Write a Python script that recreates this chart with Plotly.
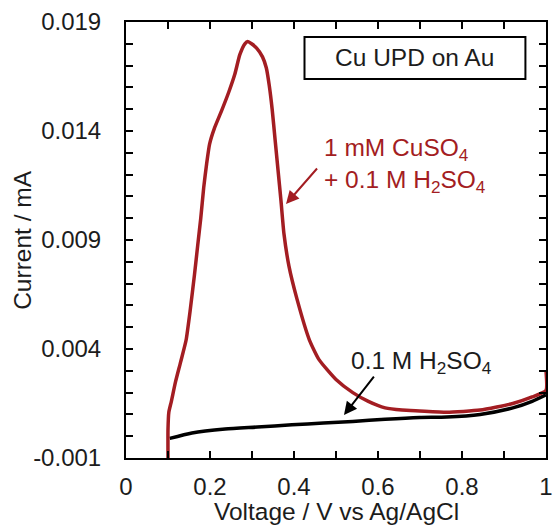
import plotly.graph_objects as go

# Cyclic voltammetry of Cu underpotential deposition on Au (anodic sweep)
cu_voltage = [0.100, 0.100, 0.102, 0.108, 0.118, 0.130, 0.143, 0.153, 0.163, 0.171,
              0.178, 0.185, 0.192, 0.199, 0.210, 0.227, 0.245, 0.259, 0.271, 0.283,
              0.290, 0.299, 0.311, 0.325, 0.334, 0.341, 0.348, 0.355, 0.362, 0.369,
              0.376, 0.388, 0.407, 0.437, 0.460, 0.500, 0.540, 0.577, 0.617, 0.657,
              0.699, 0.764, 0.843, 0.921, 0.967, 1.000, 1.000]
cu_current = [-0.0010, 0.0003, 0.0011, 0.0016, 0.0025, 0.0034, 0.0044, 0.0058, 0.0074, 0.0088,
              0.0100, 0.0114, 0.0125, 0.0134, 0.0141, 0.0149, 0.0158, 0.0166, 0.0175, 0.0180,
              0.0181, 0.0180, 0.0178, 0.0174, 0.0169, 0.0161, 0.0150, 0.0136, 0.0122, 0.0108,
              0.0093, 0.0078, 0.0063, 0.0044, 0.0035, 0.0026, 0.0020, 0.0016, 0.0013, 0.0012,
              0.00116, 0.0011, 0.0012, 0.0015, 0.0018, 0.0021, 0.0030]

# Blank electrolyte background current
blank_voltage = [0.104, 0.157, 0.236, 0.313, 0.395, 0.470, 0.540, 0.617, 0.699, 0.764,
                 0.843, 0.921, 0.967, 1.000]
blank_current = [-0.0001, 0.00015, 0.00033, 0.00042, 0.00052, 0.0006, 0.00068, 0.00078,
                 0.00086, 0.00088, 0.0010, 0.0013, 0.0016, 0.0019]

x_tick_vals = [0, 0.2, 0.4, 0.6, 0.8, 1]
x_tick_text = ["0", "0.2", "0.4", "0.6", "0.8", "1"]
y_tick_vals = [-0.001, 0.004, 0.009, 0.014, 0.019]
y_tick_text = ["-0.001", "0.004", "0.009", "0.014", "0.019"]
x_title = "Voltage / V vs Ag/AgCl"
y_title = "Current / mA"


def with_unlabelled_steps(vals, texts, step, lo, hi):
    """Tick every `step` across [lo, hi], labelled only at the given values."""
    n = int(round((hi - lo) / step))
    all_vals, all_text = [], []
    for k in range(n + 1):
        v = round(lo + k * step, 6)
        all_vals.append(v)
        label = ""
        for tv, tt in zip(vals, texts):
            if abs(tv - v) < step / 10:
                label = tt
        all_text.append(label)
    return all_vals, all_text


xt_vals, xt_text = with_unlabelled_steps(x_tick_vals, x_tick_text, 0.1, 0, 1)
yt_vals, yt_text = with_unlabelled_steps(y_tick_vals, y_tick_text, 0.001, -0.001, 0.019)

RED = "#A31D22"
INK = "#1c1c1c"
FONT = "Liberation Sans, Arial, sans-serif"

fig = go.Figure()
fig.add_trace(go.Scatter(x=blank_voltage, y=blank_current, mode="lines",
                         line=dict(color="black", width=3.5, shape="spline", smoothing=0.6),
                         showlegend=False))
fig.add_trace(go.Scatter(x=cu_voltage, y=cu_current, mode="lines",
                         line=dict(color=RED, width=3.5, shape="spline", smoothing=0.5),
                         showlegend=False))

axis_common = dict(showline=True, linecolor="black", linewidth=2, mirror="ticks",
                   ticks="inside", ticklen=7, tickwidth=2, tickcolor="black",
                   showgrid=False, zeroline=False, tickmode="array",
                   tickfont=dict(family=FONT, size=24, color=INK))

fig.update_xaxes(range=[0, 1], tickvals=xt_vals, ticktext=xt_text,
                 ticklabelstandoff=6, **axis_common)
fig.update_yaxes(range=[-0.001, 0.019], tickvals=yt_vals, ticktext=yt_text,
                 ticklabelstandoff=18, **axis_common)

# Axis titles, placed relative to the plotting area
fig.add_annotation(x=0.5, y=-0.122, xref="paper", yref="paper", text=x_title,
                   showarrow=False, yanchor="middle",
                   font=dict(family=FONT, size=24.5, color=INK))
fig.add_annotation(x=-0.248, y=0.5, xref="paper", yref="paper", text=y_title,
                   showarrow=False, textangle=-90, xanchor="center",
                   font=dict(family=FONT, size=24.5, color=INK))

# Title box
fig.add_shape(type="rect", xref="x", yref="y", x0=0.425, x1=0.951, y0=0.01639, y1=0.01831,
              line=dict(color="black", width=2), fillcolor="white", layer="above")
fig.add_annotation(x=0.688, y=0.01735, xref="x", yref="y", text="Cu UPD on Au",
                   showarrow=False, font=dict(family=FONT, size=24.5, color=INK))

# Labels with pointer arrows
fig.add_annotation(x=0.467, y=0.0124, xref="x", yref="y", xanchor="left", align="left",
                   text="1 mM CuSO<sub>4</sub><br>+ 0.1 M H<sub>2</sub>SO<sub>4</sub>",
                   showarrow=False, font=dict(family=FONT, size=24.5, color=RED))
fig.add_annotation(x=0.381, y=0.01065, ax=0.458, ay=0.01235, xref="x", yref="y",
                   axref="x", ayref="y", text="", showarrow=True, arrowhead=2,
                   arrowsize=1.3, arrowwidth=2, arrowcolor=RED)

fig.add_annotation(x=0.703, y=0.0034, xref="x", yref="y",
                   text="0.1 M H<sub>2</sub>SO<sub>4</sub>",
                   showarrow=False, font=dict(family=FONT, size=24.5, color=INK))
fig.add_annotation(x=0.519, y=0.00097, ax=0.593, ay=0.0028, xref="x", yref="y",
                   axref="x", ayref="y", text="", showarrow=True, arrowhead=2,
                   arrowsize=1.3, arrowwidth=2, arrowcolor="black")

fig.update_layout(width=558, height=525, margin=dict(l=126, r=5, t=22, b=67),
                  paper_bgcolor="white", plot_bgcolor="white",
                  font=dict(family=FONT, color=INK))

fig.write_html("out.html")
